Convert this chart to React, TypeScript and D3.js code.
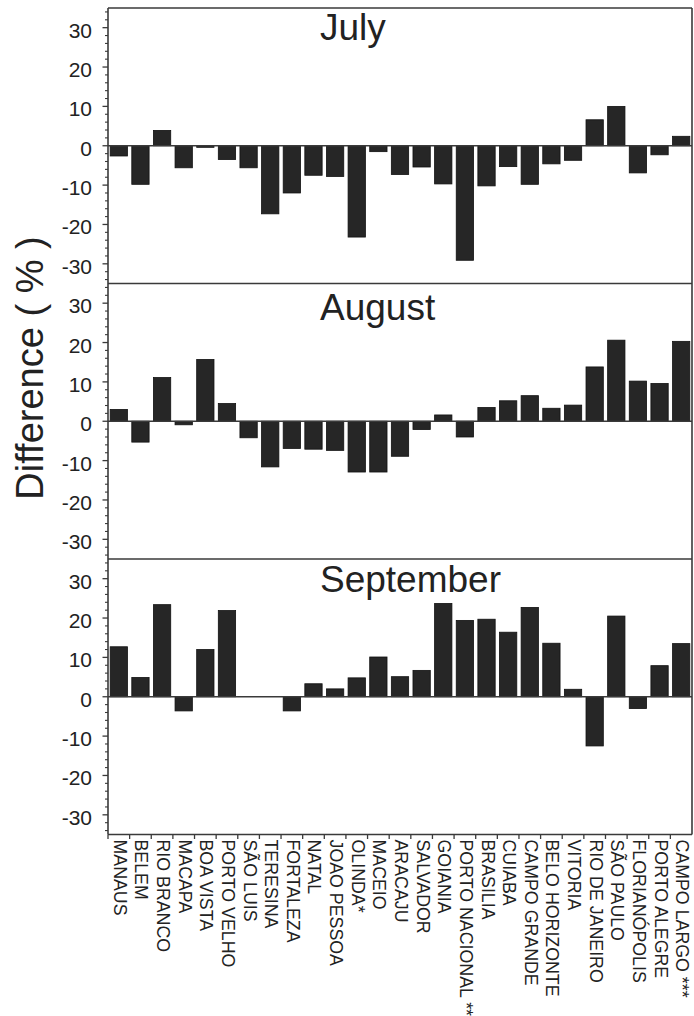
import React from "react";
import * as d3 from "d3";

const CITIES = [
  "MANAUS", "BELEM", "RIO BRANCO", "MACAPA", "BOA VISTA", "PORTO VELHO", "SÃO LUIS",
  "TERESINA", "FORTALEZA", "NATAL", "JOAO PESSOA", "OLINDA*", "MACEIO", "ARACAJU",
  "SALVADOR", "GOIANIA", "PORTO NACIONAL **", "BRASILIA", "CUIABA", "CAMPO GRANDE",
  "BELO HORIZONTE", "VITORIA", "RIO DE JANEIRO", "SÃO PAULO", "FLORIANÓPOLIS",
  "PORTO ALEGRE", "CAMPO LARGO ***",
];

const JULY = [
  -2.6, -9.8, 3.9, -5.6, -0.4, -3.5, -5.6, -17.3, -12.0, -7.5, -7.8, -23.2, -1.5, -7.3,
  -5.4, -9.7, -29.1, -10.2, -5.3, -9.8, -4.6, -3.7, 6.6, 10.0, -6.9, -2.3, 2.4,
];
const AUGUST = [
  3.0, -5.3, 11.1, -0.9, 15.7, 4.5, -4.2, -11.6, -6.9, -7.1, -7.4, -12.9, -12.9, -8.9,
  -2.1, 1.6, -4.0, 3.5, 5.2, 6.5, 3.3, 4.1, 13.8, 20.6, 10.2, 9.6, 20.3,
];
const SEPTEMBER = [
  12.7, 4.9, 23.4, -3.6, 12.0, 21.9, 0, 0, -3.6, 3.3, 2.0, 4.8, 10.1, 5.1,
  6.7, 23.7, 19.4, 19.7, 16.4, 22.7, 13.6, 1.9, -12.5, 20.5, -3.0, 7.9, 13.5,
];

const MONTHS = ["July", "August", "September"];
const SERIES = [JULY, AUGUST, SEPTEMBER];
const Y_TICKS = [-30, -20, -10, 0, 10, 20, 30];
const Y_MINOR = d3.range(-34, 35, 2).filter((v) => v % 10 !== 0);
const Y_DOMAIN: [number, number] = [-35, 35];
const Y_LABEL = "Difference ( % )";

const W = 694;
const H = 1016;
const LEFT = 108;
const RIGHT = 692;
const TOP = 8;
const PANEL_H = 275.5;
const TITLE_OFFSETS = [31.5, 36, 32.5];
const FONT = "'Liberation Sans', Arial, Helvetica, sans-serif";
const INK = "#222";
const LINE = "#3a3a3a";

export default function App() {
  const x = d3
    .scaleBand<string>()
    .domain(CITIES)
    .range([LEFT, RIGHT])
    .paddingInner(0.2)
    .paddingOuter(0.1);
  const step = x.step();
  const bottom = TOP + PANEL_H * 3;

  return (
    <svg
      width={W}
      height={H}
      style={{ position: "absolute", left: 0, top: 0, background: "#fff" }}
      fontFamily={FONT}
    >
      <rect x={0} y={0} width={W} height={H} fill="#fff" />
      {SERIES.map((vals, p) => {
        const top = TOP + PANEL_H * p;
        const y = d3.scaleLinear().domain(Y_DOMAIN).range([top + PANEL_H, top]);
        const y0 = y(0);
        return (
          <g key={p}>
            {vals.map((v, i) => {
              const c = CITIES[i];
              if (v === 0) return null;
              const yv = y(v);
              return (
                <rect
                  key={c}
                  x={x(c)!}
                  y={Math.min(yv, y0)}
                  width={x.bandwidth()}
                  height={Math.abs(yv - y0)}
                  fill="#262626"
                  stroke="#111"
                  strokeWidth={0.8}
                />
              );
            })}
            <line x1={LEFT} x2={RIGHT} y1={y0} y2={y0} stroke={LINE} strokeWidth={1.5} />
            <line x1={LEFT} x2={RIGHT} y1={top} y2={top} stroke={LINE} strokeWidth={1.6} />
            {Y_TICKS.map((t) => (
              <g key={t}>
                <line x1={LEFT - 5.5} x2={LEFT} y1={y(t)} y2={y(t)} stroke={LINE} strokeWidth={1.3} />
                <text
                  x={92}
                  y={y(t) + 2.5}
                  fontSize={21}
                  textAnchor="end"
                  dominantBaseline="central"
                  fill={INK}
                >
                  {t}
                </text>
              </g>
            ))}
            {Y_MINOR.map((t) => (
              <line key={t} x1={LEFT - 3} x2={LEFT} y1={y(t)} y2={y(t)} stroke={LINE} strokeWidth={1.1} />
            ))}
            <text x={320} y={top + TITLE_OFFSETS[p]} fontSize={37} fill={INK}>
              {MONTHS[p]}
            </text>
          </g>
        );
      })}
      <line x1={LEFT} x2={RIGHT} y1={bottom} y2={bottom} stroke={LINE} strokeWidth={1.6} />
      <line x1={LEFT} x2={LEFT} y1={TOP} y2={bottom} stroke={LINE} strokeWidth={1.6} />
      <line x1={RIGHT} x2={RIGHT} y1={TOP} y2={bottom} stroke={LINE} strokeWidth={1.6} />
      {CITIES.map((c) => {
        const b = x(c)! - (step - x.bandwidth()) / 2;
        return <line key={"t" + c} x1={b} x2={b} y1={bottom} y2={bottom + 4.5} stroke={LINE} strokeWidth={1.3} />;
      })}
      {CITIES.map((c) => {
        const cx = x(c)! + x.bandwidth() / 2 + 1;
        return (
          <text
            key={"l" + c}
            transform={`translate(${cx},${bottom + 5}) rotate(90)`}
            fontSize={17.8}
            dominantBaseline="central"
            fill={INK}
          >
            {c}
          </text>
        );
      })}
      <text
        transform={`translate(43,368) rotate(-90)`}
        fontSize={38}
        textAnchor="middle"
        fill={INK}
      >
        {Y_LABEL}
      </text>
    </svg>
  );
}
